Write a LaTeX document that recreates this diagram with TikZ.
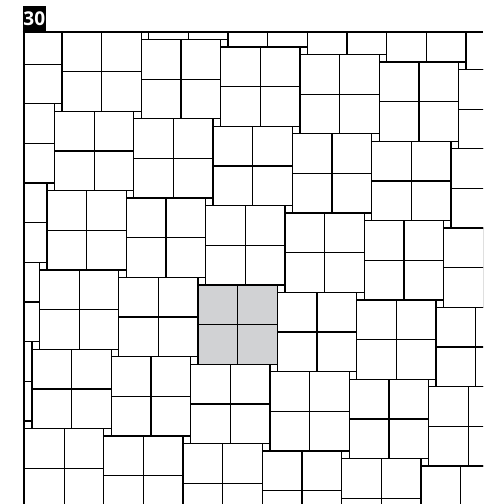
\documentclass[tikz,border=0pt]{standalone}
\usepackage{fontspec}
\setmainfont{Open Sans}
\begin{document}
\begin{tikzpicture}[x=1pt,y=-1pt,
  tile/.style={draw=black,line width=1.3pt},
  frameline/.style={draw=black,line width=2pt},
  grayfill/.style={fill={rgb,255:red,209;green,210;blue,212}}]
\useasboundingbox (0,0) rectangle (483,504);
\pgfmathsetmacro\L{79.3}
\pgfmathsetmacro\S{7.5}
\begin{scope}
\clip (23.5,31.5) rectangle (483,504);
\fill[grayfill] (198.1,284.9) rectangle ++(\L,\L);
\foreach \m in {-3,...,7}{
  \foreach \n in {-3,...,7}{
    \pgfmathsetmacro\X{62+\m*\L-\n*\S}
    \pgfmathsetmacro\Y{32+\m*\S+\n*\L}
    \draw[tile] (\X,\Y) rectangle ++(\L,\L);
    \draw[tile] (\X+0.5*\L,\Y) -- ++(0,\L);
    \draw[tile] (\X,\Y+0.5*\L) -- ++(\L,0);
    \draw[tile] (\X+\L,\Y) rectangle ++(\S,\S);
  }
}
\end{scope}
\draw[frameline] (22.5,31.5) -- (483,31.5);
\draw[frameline] (23.5,30.5) -- (23.5,504);
\node[fill=black,text=white,font=\bfseries\fontsize{19}{19}\selectfont,
  minimum width=23.5pt,minimum height=24.5pt,inner sep=0pt,anchor=north west]
  (label) at (22.3,6) {30};
\end{tikzpicture}
\end{document}
